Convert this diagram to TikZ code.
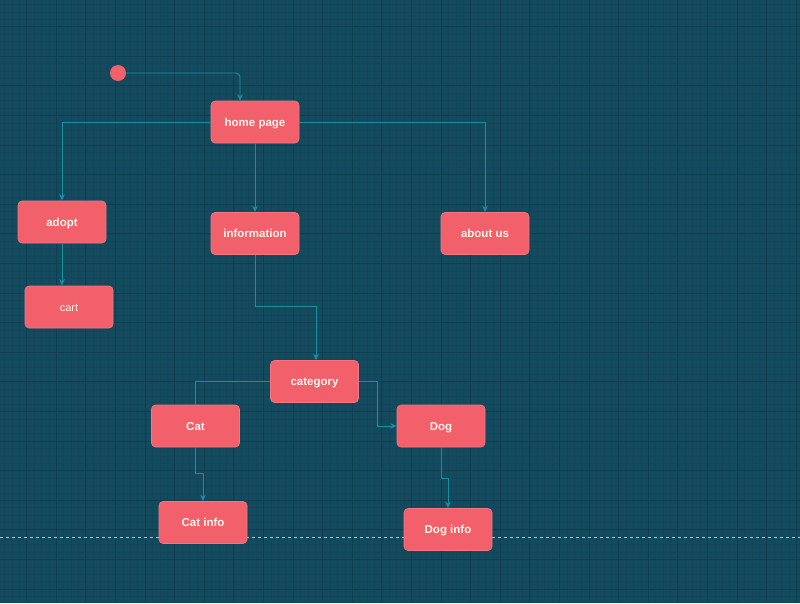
\documentclass[tikz,border=0pt]{standalone}
\usepackage{fontspec}
\setmainfont{Liberation Sans}
\usetikzlibrary{arrows.meta}
\definecolor{bg}{HTML}{144A5E}
\definecolor{gridmaj}{HTML}{0F3E50}
\definecolor{gridmin}{HTML}{124658}
\definecolor{nodepink}{HTML}{F2606C}
\definecolor{edgecol}{HTML}{1A8FA2}
\definecolor{txtcol}{HTML}{FFF6EA}
\definecolor{dashcol}{HTML}{9CCFDF}
\tikzset{
  box/.style={rectangle, rounded corners=4pt, fill=nodepink, draw=nodepink!85!white, line width=0.6pt,
    minimum width=88pt, minimum height=42pt, inner sep=0pt, text=txtcol,
    text height=8pt, text depth=0pt,
    font=\bfseries\fontsize{11.5}{13}\selectfont},
  plainbox/.style={box, font=\fontsize{11}{13}\selectfont},
  conn/.style={draw=edgecol, line width=0.9pt},
  arr/.style={conn, -{Stealth[length=6.5pt,width=5.5pt]}},
}
\begin{document}
\begin{tikzpicture}[x=1pt,y=-1pt]
\useasboundingbox (0,0) rectangle (800,603);
\fill[bg] (0,0) rectangle (800,603);
\foreach \i in {0,...,110} {
  \draw[gridmin, line width=0.4pt] ({-3+7.4*\i},0) -- ({-3+7.4*\i},603);
}
\foreach \i in {0,...,82} {
  \draw[gridmin, line width=0.4pt] (0,{-3+7.4*\i}) -- (800,{-3+7.4*\i});
}
\foreach \i in {1,...,27} {
  \draw[gridmaj, line width=0.9pt] ({-3+29.6*\i},0) -- ({-3+29.6*\i},603);
}
\foreach \i in {1,...,20} {
  \draw[gridmaj, line width=0.9pt] (0,{-3+29.6*\i}) -- (800,{-3+29.6*\i});
}
\draw[dashcol, line width=0.9pt, dash pattern=on 3pt off 3pt] (0,537) -- (800,537);

\node[circle, fill=nodepink, minimum size=16pt, inner sep=0pt] (start) at (118,73) {};
\node[box] (home) at (255,122) {home page};
\node[box] (adopt) at (62,222) {adopt};
\node[box] (info) at (255,233.5) {information};
\node[box] (about) at (485,233.5) {about us};
\node[plainbox] (cart) at (69,307) {cart};
\node[box] (category) at (314.5,381.5) {category};
\node[box] (cat) at (195.5,426) {Cat};
\node[box] (dog) at (441,426) {Dog};
\node[box] (catinfo) at (203,522.5) {Cat info};
\node[box] (doginfo) at (448,529.5) {Dog info};

\draw[arr, rounded corners=4pt] (start.east) -| ([xshift=-15pt]home.north);
\draw[arr] (home.west) -| (adopt.north);
\draw[arr] (home.south) -- (info.north);
\draw[arr] (home.east) -| (about.north);
\draw[arr] (adopt.south) -- (adopt.south |- cart.north);
\draw[arr] (info.south) -- ++(0,52) -| ([xshift=1.5pt]category.north);
\draw[conn] (category.west) -| (cat.north);
\draw[arr] (category.east) -- ++(19,0) |- (dog.west);
\draw[arr] (cat.south) -- ++(0,26) -| (catinfo.north);
\draw[arr] (dog.south) -- ++(0,31) -| (doginfo.north);
\end{tikzpicture}
\end{document}
